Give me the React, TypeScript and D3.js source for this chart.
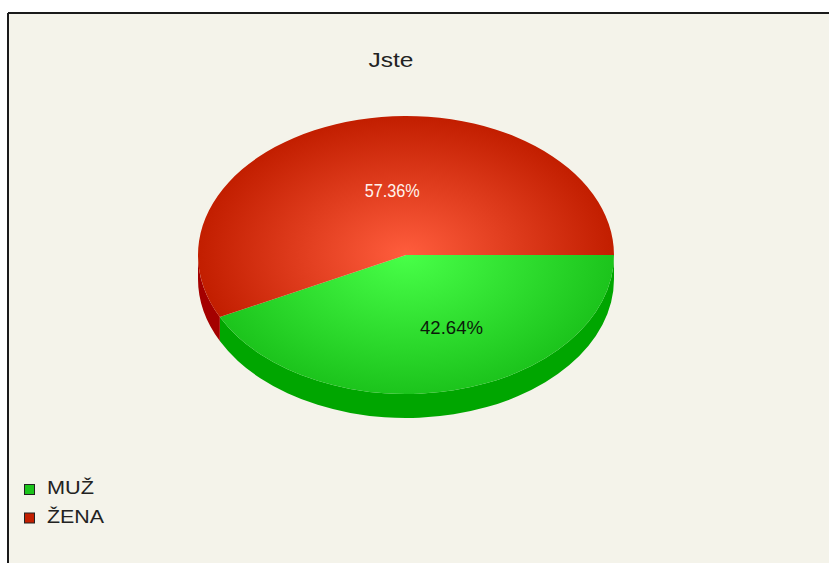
import React from "react";
import * as d3 from "d3";

const title = "Jste";
const categories = ["MUŽ", "ŽENA"];
const values = [42.64, 57.36];
const labels = ["42.64%", "57.36%"];
const topColors = [
  { c: "#48ff48", e: "#1cc41c" },
  { c: "#ff5d3d", e: "#c21e00" },
];
const sideColors = ["#00a600", "#a40000"];
const labelColors = ["#0a1a0a", "#fff4ee"];

const W = 829;
const H = 563;
const cx = 406;
const cy = 255;
const rx = 208;
const ry = 139;
const depth = 24;

function pt(theta: number, dy = 0): [number, number] {
  return [cx + rx * Math.cos(theta), cy + ry * Math.sin(theta) + dy];
}

export default function App() {
  const pie = d3
    .pie<number>()
    .sort(null)
    .startAngle(Math.PI / 2)
    .endAngle(Math.PI / 2 + 2 * Math.PI);
  const arcs = pie(values).map((a) => ({
    ...a,
    t0: a.startAngle - Math.PI / 2,
    t1: a.endAngle - Math.PI / 2,
  }));

  const topPath = (t0: number, t1: number) => {
    const p0 = pt(t0);
    const p1 = pt(t1);
    const large = t1 - t0 > Math.PI ? 1 : 0;
    return `M${cx},${cy}L${p0[0]},${p0[1]}A${rx},${ry} 0 ${large} 1 ${p1[0]},${p1[1]}Z`;
  };
  const sidePath = (t0: number, t1: number) => {
    const segs: [number, number][] = [];
    for (const k of [0, 2 * Math.PI]) {
      const a = Math.max(t0, k);
      const b = Math.min(t1, k + Math.PI);
      if (b > a) segs.push([a, b]);
    }
    return segs
      .map(([a, b]) => {
        const p0 = pt(a);
        const p1 = pt(b);
        const q1 = pt(b, depth);
        const q0 = pt(a, depth);
        return `M${p0[0]},${p0[1]}A${rx},${ry} 0 0 1 ${p1[0]},${p1[1]}L${q1[0]},${q1[1]}A${rx},${ry} 0 0 0 ${q0[0]},${q0[1]}Z`;
      })
      .join("");
  };

  const labelFactor = [0.56, 0.47];
  const labelTurn = [-0.17, 0.09];
  const labelLen = [63, 55];

  return (
    <svg
      width={W}
      height={H}
      style={{ position: "absolute", left: 0, top: 0, display: "block" }}
      fontFamily="'Liberation Sans', Arial, sans-serif"
    >
      <defs>
        {arcs.map((a, i) => (
          <radialGradient
            key={i}
            id={`g${i}`}
            gradientUnits="userSpaceOnUse"
            cx={cx}
            cy={cy}
            r={rx}
            gradientTransform={`translate(${cx},${cy}) scale(1,${ry / rx}) translate(${-cx},${-cy})`}
          >
            <stop offset="0" stopColor={topColors[i].c} />
            <stop offset="1" stopColor={topColors[i].e} />
          </radialGradient>
        ))}
      </defs>
      <rect x={0} y={0} width={W} height={H} fill="#ffffff" />
      <rect x={8} y={13} width={W} height={H} fill="#f4f3ea" />
      <line x1={8} y1={13} x2={W} y2={13} stroke="#1a1a1a" strokeWidth={2} />
      <line x1={8} y1={13} x2={8} y2={H} stroke="#1a1a1a" strokeWidth={2} />

      <text
        x={391}
        y={67}
        textAnchor="middle"
        fontSize={20.5}
        fill="#222"
        textLength={45}
        lengthAdjust="spacingAndGlyphs"
      >
        {title}
      </text>

      {arcs.map((a, i) => (
        <path key={`s${i}`} d={sidePath(a.t0, a.t1)} fill={sideColors[i]} />
      ))}
      {arcs.map((a, i) => (
        <path key={`t${i}`} d={topPath(a.t0, a.t1)} fill={`url(#g${i})`} />
      ))}
      {arcs.map((a, i) => {
        const mid = (a.t0 + a.t1) / 2 + labelTurn[i];
        const [x, y] = [
          cx + rx * labelFactor[i] * Math.cos(mid),
          cy + ry * labelFactor[i] * Math.sin(mid),
        ];
        return (
          <text
            key={`l${i}`}
            x={x}
            y={y + 7}
            textAnchor="middle"
            fontSize={18.5}
            fill={labelColors[i]}
            textLength={labelLen[i]}
            lengthAdjust="spacingAndGlyphs"
          >
            {labels[i]}
          </text>
        );
      })}

      {categories.map((c, i) => (
        <g key={c} transform={`translate(24,${484 + i * 28.5})`}>
          <rect x={0.5} y={0.5} width={10} height={10} fill={topColors[i].e} stroke="#222" strokeWidth={1} />
          <text
            x={23}
            y={10}
            fontSize={18.5}
            fill="#222"
            textLength={i === 0 ? 47 : 57}
            lengthAdjust="spacingAndGlyphs"
          >
            {c}
          </text>
        </g>
      ))}
    </svg>
  );
}
